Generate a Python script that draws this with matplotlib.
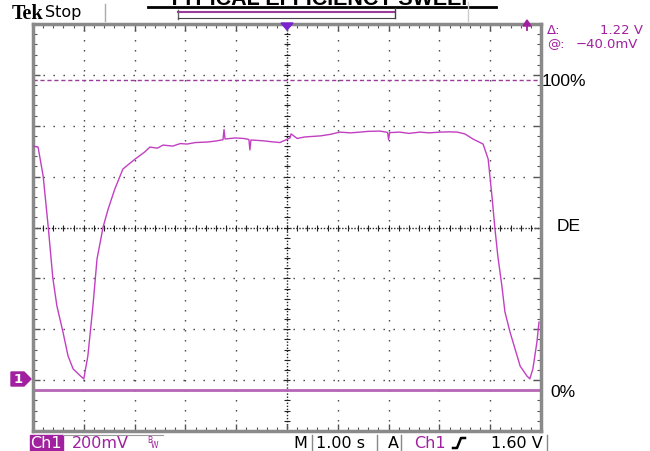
"""
 Title:         Scope capture
 Description:   Typical efficiency sweep, redrawn as a Tek scope screen
"""

# Libraries
import matplotlib
matplotlib.use("Agg")
import matplotlib.pyplot as plt
from matplotlib.lines import Line2D
from matplotlib.patches import Polygon, Rectangle
import numpy as np

# Constants
W, H = 650, 452
TRACE_COLOUR = "#c23fc2"
TEXT_PURPLE  = "#a0209f"
GRID_COLOUR  = "#3a3a3a"

# Trace data (time in s, volts, 1.00 s/div and 200 mV/div)
time_s = [0.00, 0.10, 0.20, 0.30, 0.39, 0.47, 0.59, 0.69, 0.79, 0.93, 1.00,
          1.08, 1.18, 1.26, 1.38, 1.48, 1.61, 1.77, 2.01, 2.20, 2.30, 2.45,
          2.56, 2.75, 2.90, 3.03, 3.20, 3.43, 3.60, 3.74, 3.76, 3.78, 3.98,
          4.15, 4.25, 4.27, 4.29, 4.45, 4.57, 4.70, 4.86, 4.95, 5.06, 5.08,
          5.20, 5.35, 5.50, 5.65, 5.85, 6.04, 6.25, 6.44, 6.60, 6.83, 6.98,
          7.00, 7.02, 7.22, 7.40, 7.62, 7.80, 8.01, 8.20, 8.35, 8.50, 8.66,
          8.86, 8.96, 9.04, 9.09, 9.15, 9.23, 9.29, 9.39, 9.49, 9.59, 9.72,
          9.78, 9.84, 9.92, 9.96]
volts  = [0.920, 0.916, 0.802, 0.602, 0.402, 0.292, 0.189, 0.095, 0.044, 0.017, 0.005,
          0.095, 0.292, 0.476, 0.602, 0.673, 0.751, 0.830, 0.869, 0.897, 0.916, 0.912,
          0.924, 0.920, 0.930, 0.928, 0.934, 0.936, 0.940, 0.945, 0.985, 0.948, 0.952,
          0.950, 0.946, 0.905, 0.944, 0.942, 0.940, 0.937, 0.934, 0.942, 0.952, 0.968,
          0.950, 0.956, 0.958, 0.960, 0.966, 0.975, 0.972, 0.975, 0.978, 0.979, 0.974,
          0.945, 0.973, 0.975, 0.970, 0.975, 0.972, 0.975, 0.976, 0.975, 0.968, 0.948,
          0.928, 0.869, 0.712, 0.602, 0.488, 0.370, 0.268, 0.189, 0.122, 0.055, 0.017,
          0.005, 0.044, 0.150, 0.228]

# Cursor levels
cursor_low  = -0.040
cursor_high = 1.180

def fx(x):
    return x / W

def fy(y):
    return 1 - y / H

# Figure and graticule
fig = plt.figure(figsize=(W/100, H/100), dpi=100)
fig.patch.set_facecolor("white")
ax = fig.add_axes([33/W, 1-432/H, 508/W, 407/H])
ax.set_xlim(0, 10)
ax.set_ylim(-0.2, 1.4)
ax.set_xticks(np.arange(0, 10.01, 1))
ax.set_yticks(np.arange(-0.2, 1.401, 0.2))
ax.set_xticks(np.arange(0, 10.01, 0.2), minor=True)
ax.set_yticks(np.arange(-0.2, 1.401, 0.04), minor=True)
ax.set_xticklabels([])
ax.set_yticklabels([])
ax.tick_params(which="both", direction="in", top=True, right=True, colors="#555555")
ax.tick_params(which="major", length=5, width=1)
ax.tick_params(which="minor", length=3, width=0.8)
for spine in ax.spines.values():
    spine.set_linewidth(2.5)
    spine.set_color("#8a8a8a")

for xv in range(1, 10):
    if xv != 5:
        ax.axvline(xv, color=GRID_COLOUR, linewidth=1, linestyle=(0, (1, 6.2)), zorder=1)
for yv in np.arange(0.0, 1.21, 0.2):
    if abs(yv - 0.6) > 1e-6:
        ax.axhline(yv, color=GRID_COLOUR, linewidth=1, linestyle=(0, (1, 6.2)), zorder=1)

# Centre cross with small ticks
ax.axvline(5, color="#222222", linewidth=1, linestyle=(0, (1, 1.2)), zorder=1)
ax.axhline(0.6, color="#222222", linewidth=1, linestyle=(0, (1, 1.2)), zorder=1)
ax.plot(np.arange(0, 10.01, 0.2), [0.6]*51, linestyle="none", marker="|",
        markersize=5, color="#222222", markeredgewidth=0.8, zorder=1)
ax.plot([5]*41, np.arange(-0.2, 1.401, 0.04), linestyle="none", marker="_",
        markersize=5, color="#222222", markeredgewidth=0.8, zorder=1)

# Cursors and trace
ax.axhline(cursor_high, color="#9a3c9a", linewidth=1, linestyle=(0, (3, 2)), zorder=2)
ax.axhline(cursor_low, color="#b566b5", linewidth=2, zorder=2)
ax.plot(time_s, volts, color=TRACE_COLOUR, linewidth=1.0, zorder=3)

# Top markers
fig.add_artist(Polygon([[fx(281), fy(24)], [fx(293), fy(24)], [fx(287), fy(31)]],
                       closed=True, color="#7a22d0", transform=fig.transFigure))
fig.add_artist(Polygon([[fx(523), fy(27)], [fx(531), fy(27)], [fx(527), fy(21)]],
                       closed=True, color=TEXT_PURPLE, transform=fig.transFigure))
fig.add_artist(Line2D([fx(527), fx(527)], [fy(26), fy(31)], linewidth=1.3, color=TEXT_PURPLE))

# Ground marker
fig.add_artist(Polygon([[fx(11), fy(373)], [fx(24), fy(373)], [fx(31), fy(380)],
                        [fx(24), fy(387)], [fx(11), fy(387)]],
                       closed=True, color="#a0209f", transform=fig.transFigure))
fig.text(fx(18), fy(380), "1", color="white", fontsize=9.5, fontweight="bold",
         ha="center", va="center")

# Title and header
fig.text(fx(322), fy(5), "TYPICAL EFFICIENCY SWEEP", ha="center", va="baseline",
         fontsize=15.5, fontweight="bold", family="Liberation Sans")
fig.add_artist(Line2D([fx(148), fx(496)], [fy(8), fy(8)], linewidth=2, color="black"))
fig.text(fx(12), fy(14), "Tek", family="Liberation Serif", fontweight="bold",
         fontsize=14.5, ha="left", va="center")
fig.text(fx(45), fy(13), "Stop", family="DejaVu Sans", fontsize=11.5, ha="left", va="center")
fig.add_artist(Line2D([fx(105), fx(105)], [fy(5), fy(22)], linewidth=1, color="#aaaaaa"))
fig.add_artist(Line2D([fx(468), fx(468)], [fy(3), fy(22)], linewidth=1, color="#cccccc"))
fig.add_artist(Line2D([fx(178), fx(178)], [fy(11), fy(20)], linewidth=1, color="#666666"))
fig.add_artist(Line2D([fx(178), fx(395)], [fy(13), fy(13)], linewidth=1.5, color="#9a3c9a"))
fig.add_artist(Line2D([fx(178), fx(395)], [fy(19), fy(19)], linewidth=0.8, color="#444444"))
fig.add_artist(Line2D([fx(395), fx(395)], [fy(9), fy(19)], linewidth=1, color="#444444"))

# Cursor readout
fig.text(fx(547), fy(31), "\u0394:", color=TEXT_PURPLE, fontsize=9.5, ha="left", va="center")
fig.text(fx(643), fy(31), "1.22 V", color=TEXT_PURPLE, fontsize=9.5, ha="right", va="center")
fig.text(fx(547), fy(45), "@:", color=TEXT_PURPLE, fontsize=9.5, ha="left", va="center")
fig.text(fx(576), fy(45), "\u221240.0mV", color=TEXT_PURPLE, fontsize=9.5, ha="left", va="center")

# Right labels
fig.text(fx(542), fy(82), "100%", fontsize=12.5, family="Liberation Sans", ha="left", va="center")
fig.text(fx(557), fy(227), "DE", fontsize=12.5, family="Liberation Sans", ha="left", va="center")
fig.text(fx(550), fy(393), "0%", fontsize=12.5, family="Liberation Sans", ha="left", va="center")

# Bottom status bar
fig.add_artist(Rectangle((fx(30), fy(452)), 33/W, 16/H, color="#a0209f",
                         transform=fig.transFigure))
fig.text(fx(46), fy(444), "Ch1", color="white", fontsize=11.5, ha="center", va="center")
fig.add_artist(Line2D([fx(63), fx(163)], [fy(436), fy(436)], linewidth=0.8, color="#999999"))
fig.text(fx(72), fy(444), "200mV", color=TEXT_PURPLE, fontsize=11.5, ha="left", va="center")
fig.text(fx(147), fy(441), "B", color=TEXT_PURPLE, fontsize=5.5, ha="left", va="center")
fig.text(fx(151), fy(446), "W", color=TEXT_PURPLE, fontsize=5.5, ha="left", va="center")
fig.text(fx(293), fy(444), "M", fontsize=11.5, ha="left", va="center")
fig.add_artist(Line2D([fx(312), fx(312)], [fy(436), fy(452)], linewidth=1, color="#888888"))
fig.text(fx(316), fy(444), "1.00 s", fontsize=11.5, ha="left", va="center")
fig.add_artist(Line2D([fx(377), fx(377)], [fy(436), fy(452)], linewidth=1, color="#888888"))
fig.text(fx(388), fy(444), "A", fontsize=11.5, ha="left", va="center")
fig.add_artist(Line2D([fx(401), fx(401)], [fy(436), fy(452)], linewidth=1, color="#888888"))
fig.text(fx(414), fy(444), "Ch1", color=TEXT_PURPLE, fontsize=11.5, ha="left", va="center")
fig.add_artist(Line2D([fx(453), fx(457), fx(461), fx(465)],
                      [fy(449), fy(449), fy(439), fy(439)], linewidth=1.8, color="black"))
fig.text(fx(543), fy(444), "1.60 V", fontsize=11.5, ha="right", va="center")
fig.add_artist(Line2D([fx(547), fx(547)], [fy(436), fy(452)], linewidth=1, color="#888888"))

fig.savefig("out.png", dpi=100)
